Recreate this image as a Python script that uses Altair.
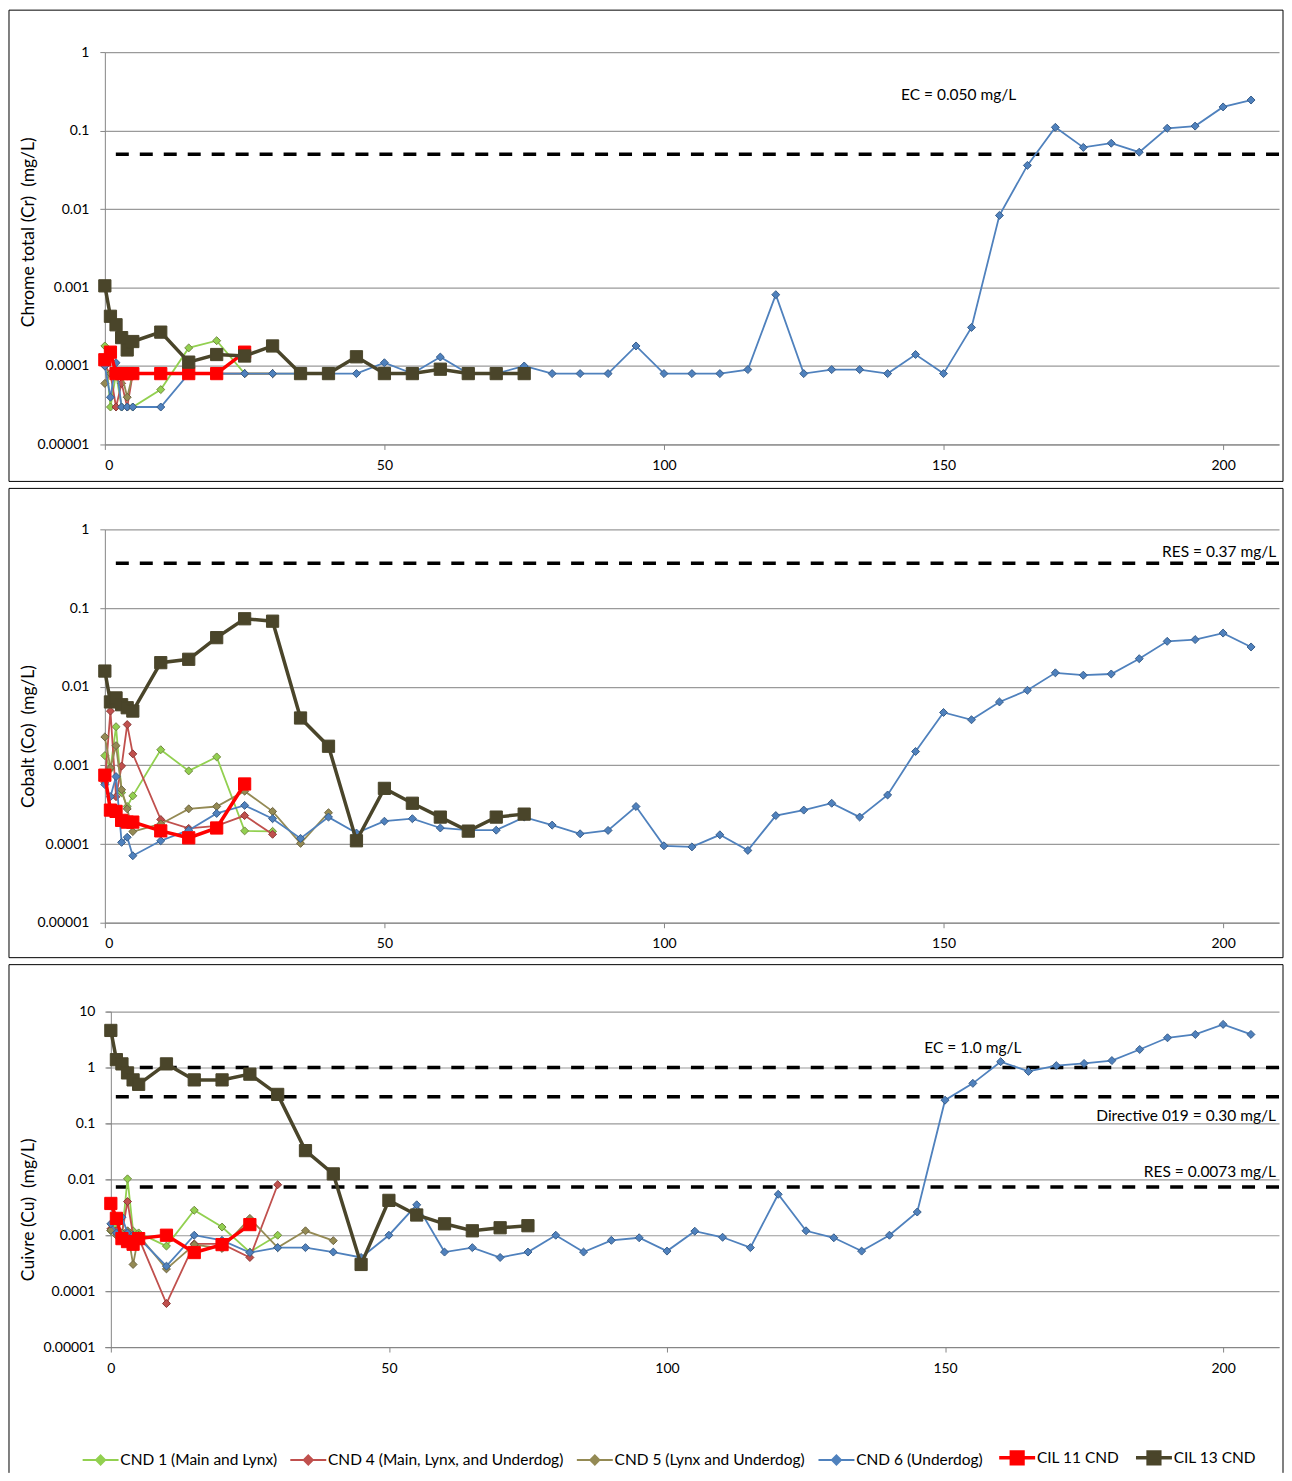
import altair as alt
import pandas as pd

SERIES = ["CND 1 (Main and Lynx)", "CND 4 (Main, Lynx, and Underdog)",
          "CND 5 (Lynx and Underdog)", "CND 6 (Underdog)", "CIL 11 CND", "CIL 13 CND"]
COLORS = ["#92D050", "#C0504D", "#948A54", "#4F81BD", "#FF0000", "#4A452A"]
EDGES = ["#71893F", "#8C3836", "#6B6340", "#385D8A", "#FF0000", "#4A452A"]

# sampling days for each series
T_CND1 = [0, 1, 2, 3, 4, 5, 10, 15, 20, 25, 30]
T_CND4 = [0, 1, 2, 3, 4, 5, 10, 15, 20, 25, 30]
T_CND5 = [0, 1, 2, 3, 4, 5, 10, 15, 20, 25, 30, 35, 40]
T_CND6 = [0, 1, 2, 3, 4, 5, 10, 15, 20, 25, 30, 35, 40, 45, 50, 55, 60, 65, 70, 75,
          80, 85, 90, 95, 100, 105, 110, 115, 120, 125, 130, 135, 140, 145, 150, 155,
          160, 165, 170, 175, 180, 185, 190, 195, 200, 205]
T_CIL11 = [0, 1, 2, 3, 4, 5, 10, 15, 20, 25]
T_CIL13 = [0, 1, 2, 3, 4, 5, 10, 15, 20, 25, 30, 35, 40, 45, 50, 55, 60, 65, 70, 75]
TIMES = [T_CND1, T_CND4, T_CND5, T_CND6, T_CIL11, T_CIL13]

# ---- Chrome total (Cr) ----
CR_CND1 = [1.8e-4, 3e-5, 8e-5, 3e-5, 3e-5, 3e-5, 5e-5, 1.7e-4, 2.1e-4, 8e-5, 8e-5]
CR_CND4 = [1e-4, 8e-5, 3e-5, 6e-5, 3e-5, 8e-5, 8e-5, 8e-5, 8e-5, 8e-5, 8e-5]
CR_CND5 = [6e-5, 8e-5, 8e-5, 8e-5, 4e-5, 8e-5, 8e-5, 8e-5, 8e-5, 8e-5, 8e-5, 8e-5, 8e-5]
CR_CND6 = [1e-4, 4e-5, 1.1e-4, 3e-5, 3e-5, 3e-5, 3e-5, 8e-5, 8e-5, 8e-5, 8e-5, 8e-5,
           8e-5, 8e-5, 1.1e-4, 8e-5, 1.3e-4, 8e-5, 8e-5, 1e-4, 8e-5, 8e-5, 8e-5, 1.8e-4,
           8e-5, 8e-5, 8e-5, 9e-5, 8.1e-4, 8e-5, 9e-5, 9e-5, 8e-5, 1.4e-4, 8e-5, 3.1e-4,
           8.3e-3, 0.036, 0.11, 0.061, 0.069, 0.053, 0.107, 0.114, 0.20, 0.245]
CR_CIL11 = [1.2e-4, 1.5e-4, 8e-5, 8e-5, 8e-5, 8e-5, 8e-5, 8e-5, 8e-5, 1.5e-4]
CR_CIL13 = [1.05e-3, 4.3e-4, 3.35e-4, 2.3e-4, 1.6e-4, 2.05e-4, 2.7e-4, 1.12e-4, 1.4e-4,
            1.34e-4, 1.8e-4, 8e-5, 8e-5, 1.31e-4, 8e-5, 8e-5, 9.1e-5, 8e-5, 8e-5, 8e-5]

# ---- Cobalt (Co) ----
CO_CND1 = [1.33e-3, 9e-4, 3.1e-3, 4.5e-4, 3e-4, 4.1e-4, 1.58e-3, 8.5e-4, 1.28e-3, 1.47e-4, 1.45e-4]
CO_CND4 = [6e-4, 4.9e-3, 4e-4, 9.8e-4, 3.3e-3, 1.4e-3, 2.05e-4, 1.58e-4, 1.7e-4, 2.3e-4, 1.33e-4]
CO_CND5 = [2.3e-3, 9.3e-4, 1.78e-3, 4.9e-4, 2.8e-4, 1.44e-4, 1.8e-4, 2.8e-4, 3e-4, 4.7e-4,
           2.6e-4, 1.02e-4, 2.5e-4]
CO_CND6 = [5.7e-4, 4e-4, 7.2e-4, 1.05e-4, 1.22e-4, 7.1e-5, 1.1e-4, 1.5e-4, 2.45e-4, 3.1e-4,
           2.1e-4, 1.18e-4, 2.2e-4, 1.38e-4, 1.95e-4, 2.1e-4, 1.6e-4, 1.5e-4, 1.5e-4, 2.2e-4,
           1.74e-4, 1.35e-4, 1.49e-4, 3.0e-4, 9.5e-5, 9.2e-5, 1.31e-4, 8.3e-5, 2.3e-4, 2.7e-4,
           3.3e-4, 2.2e-4, 4.2e-4, 1.5e-3, 4.7e-3, 3.8e-3, 6.4e-3, 9.0e-3, 0.015, 0.014,
           0.0145, 0.0227, 0.0377, 0.0397, 0.048, 0.032]
CO_CIL11 = [7.5e-4, 2.7e-4, 2.6e-4, 2e-4, 1.9e-4, 1.9e-4, 1.47e-4, 1.2e-4, 1.6e-4, 5.8e-4]
CO_CIL13 = [0.0158, 6.4e-3, 7.2e-3, 5.9e-3, 5.4e-3, 4.9e-3, 0.0202, 0.0223, 0.042, 0.073,
            0.068, 4.0e-3, 1.75e-3, 1.1e-4, 5.1e-4, 3.3e-4, 2.2e-4, 1.46e-4, 2.2e-4, 2.4e-4]

# ---- Cuivre (Cu) ----
CU_CND1 = [1.2e-3, 1.5e-3, 1e-3, 0.0102, 1.2e-3, 1.1e-3, 6.4e-4, 2.8e-3, 1.4e-3, 5e-4, 1e-3]
CU_CND4 = [1.3e-3, 1.2e-3, 1.1e-3, 4e-3, 1e-3, 9e-4, 6e-5, 7e-4, 7e-4, 4e-4, 8e-3]
CU_CND5 = [1.23e-3, 1e-3, 1.1e-3, 1.2e-3, 3e-4, 1e-3, 2.5e-4, 6.8e-4, 5.8e-4, 2e-3, 6e-4,
           1.2e-3, 8e-4]
CU_CND6 = [1.6e-3, 1.1e-3, 2.1e-3, 1.1e-3, 1e-3, 9e-4, 2.8e-4, 1e-3, 8.1e-4, 4.9e-4, 6e-4,
           6e-4, 5e-4, 4e-4, 1e-3, 3.5e-3, 5e-4, 6e-4, 4e-4, 5e-4, 1e-3, 5e-4, 8.1e-4, 9e-4,
           5.2e-4, 1.18e-3, 9.2e-4, 6e-4, 5.4e-3, 1.2e-3, 9e-4, 5.2e-4, 1e-3, 2.6e-3, 0.26,
           0.52, 1.27, 0.85, 1.08, 1.18, 1.33, 2.1, 3.4, 3.9, 5.9, 3.9]
CU_CIL11 = [3.7e-3, 2e-3, 8.7e-4, 7.7e-4, 6.9e-4, 8.7e-4, 1e-3, 4.9e-4, 6.8e-4, 1.55e-3]
CU_CIL13 = [4.6, 1.38, 1.16, 0.8, 0.6, 0.5, 1.16, 0.6, 0.6, 0.76, 0.33, 0.0326, 0.0125, 3e-4,
            4.2e-3, 2.3e-3, 1.6e-3, 1.2e-3, 1.36e-3, 1.48e-3]

X_TICKS = [0, 50, 100, 150, 200]
Y_TICKS_1 = [0.00001, 0.0001, 0.001, 0.01, 0.1, 1]
Y_TICKS_10 = [0.00001, 0.0001, 0.001, 0.01, 0.1, 1, 10]

CR_LIMITS = [0.050]
CR_NOTES = [(152.7, 0.28, "EC = 0.050 mg/L", "center")]
CO_LIMITS = [0.37]
CO_NOTES = [(209.5, 0.52, "RES = 0.37 mg/L", "right")]
CU_LIMITS = [1.0, 0.30, 0.0073]
CU_NOTES = [(155.0, 2.27, "EC = 1.0 mg/L", "center"),
            (209.5, 0.133, "Directive 019 = 0.30 mg/L", "right"),
            (209.5, 0.0133, "RES = 0.0073 mg/L", "right")]

FONT = "Lato"
# legend glyphs: line with a marker in the middle
PATHS = ["M-4,0H4M0,-1L1,0L0,1L-1,0Z"] * 4 + ["M-4,0H4M-1.3,-1.3H1.3V1.3H-1.3Z"] * 2
LEG_WIDTHS = [2, 2, 2, 2, 3.5, 3.5]


def panel(vals, xdom, ymax, yticks, ytitle, title_y, y_off, W, H, L, T, R, B,
          limits, notes, with_legend=False):
    rows = []
    for s, ts, vs in zip(SERIES, TIMES, vals):
        for a, b in zip(ts, vs):
            rows.append({"series": s, "t": a, "v": b})
    df = pd.DataFrame(rows)

    X = alt.X("t:Q", scale=alt.Scale(domain=xdom, nice=False, zero=False),
              axis=alt.Axis(values=X_TICKS, grid=False, title=None, tickSize=5,
                            labelPadding=9, labelFontSize=14, labelFont=FONT,
                            labelColor="black", domainColor="#868686", tickColor="#868686"))
    Y = alt.Y("v:Q", scale=alt.Scale(type="log", domain=[0.00001, ymax], nice=False),
              axis=alt.Axis(values=yticks, format=".5~f", grid=True, gridColor="#9A9A9A",
                            gridWidth=1.2, title=ytitle, titleFont=FONT, titleFontSize=17.5,
                            titleFontWeight="normal", titleColor="black",
                            titleX=-76 - y_off, titleY=title_y, titleAngle=270,
                            titleBaseline="middle", titleAlign="center", offset=-y_off,
                            tickSize=5, labelPadding=11, labelFontSize=14, labelFont=FONT,
                            labelColor="black", domainColor="#868686", tickColor="#868686"))

    layers = []
    fdf = pd.DataFrame({"f": [0]})
    if with_legend:
        # open frame: left, top and right edges
        fr = alt.Chart(fdf).mark_rule(color="black", strokeWidth=1)
        layers.append(fr.encode(x=alt.value(-L), y=alt.value(-T), y2=alt.value(H + B)))
        layers.append(fr.encode(x=alt.value(-L), x2=alt.value(W + R), y=alt.value(-T)))
        layers.append(fr.encode(x=alt.value(W + R), y=alt.value(-T), y2=alt.value(H + B)))
    else:
        layers.append(alt.Chart(fdf).mark_rect(
            fill="transparent", stroke="black", strokeWidth=1
        ).encode(x=alt.value(-L), x2=alt.value(W + R), y=alt.value(-T), y2=alt.value(H + B)))

    lim_df = pd.DataFrame({"v": limits})
    layers.append(alt.Chart(lim_df).mark_rule(color="black", strokeWidth=3.5,
                                              strokeDash=[13, 11]).encode(y=Y))

    for i, s in enumerate(SERIES):
        base = alt.Chart(df).transform_filter(alt.datum.series == s)
        cil = s.startswith("CIL")
        layers.append(base.mark_line(strokeWidth=3.5 if cil else 1.8,
                                     color=COLORS[i]).encode(x=X, y=Y))
        layers.append(base.mark_point(filled=True, opacity=1, strokeWidth=1,
                                      fill=COLORS[i], stroke=EDGES[i],
                                      shape="square" if cil else "diamond",
                                      size=150 if cil else 64).encode(x=X, y=Y))

    for (tx, ty, txt, al) in notes:
        ndf = pd.DataFrame({"t": [tx], "v": [ty], "label": [txt]})
        layers.append(alt.Chart(ndf).mark_text(align=al, baseline="middle", fontSize=15.5,
                                               font=FONT, color="black").encode(
            x=X, y=Y, text="label:N"))

    if with_legend:
        leg = alt.Legend(title=None, orient="none", legendX=-20, legendY=1400,
                         direction="horizontal", columns=6, labelFont=FONT,
                         labelFontSize=15.5, labelColor="black", labelLimit=0,
                         symbolSize=81, symbolOffset=8, labelOffset=12,
                         columnPadding=8, padding=0, symbolOpacity=1)
        ldf = pd.DataFrame({"series": SERIES, "t": [None] * 6, "v": [None] * 6})
        layers.append(alt.Chart(ldf).mark_point(filled=True, opacity=1, size=81).encode(
            x=X, y=Y,
            color=alt.Color("series:N", scale=alt.Scale(domain=SERIES, range=COLORS), legend=leg),
            stroke=alt.Stroke("series:N", scale=alt.Scale(domain=SERIES, range=COLORS), legend=leg),
            strokeWidth=alt.StrokeWidth("series:N", scale=alt.Scale(type="ordinal", domain=SERIES,
                                                                    range=LEG_WIDTHS), legend=leg),
            shape=alt.Shape("series:N", scale=alt.Scale(domain=SERIES, range=PATHS), legend=leg)))

    return alt.layer(*layers).properties(width=W, height=H)


p1 = panel([CR_CND1, CR_CND4, CR_CND5, CR_CND6, CR_CIL11, CR_CIL13], [0, 210], 1, Y_TICKS_1,
           "Chrome total (Cr) \u00a0(mg/L)", 180, 0, 1176, 393, 96, 42, 4, 37,
           CR_LIMITS, CR_NOTES)
p2 = panel([CO_CND1, CO_CND4, CO_CND5, CO_CND6, CO_CIL11, CO_CIL13], [0, 210], 1, Y_TICKS_1,
           "Cobalt (Co) \u00a0(mg/L)", 207, 0, 1176, 394, 96, 41, 4, 35,
           CO_LIMITS, CO_NOTES)
p3 = panel([CU_CND1, CU_CND4, CU_CND5, CU_CND6, CU_CIL11, CU_CIL13], [-1.077, 210.05], 10,
           Y_TICKS_10, "Cuivre (Cu) \u00a0(mg/L)", 198, 6, 1176, 336, 96, 47, 4, 126,
           CU_LIMITS, CU_NOTES, with_legend=True)

chart = alt.vconcat(p1, p2, p3, spacing=5).properties(padding=0).configure(
    font=FONT).configure_view(stroke=None)

chart.save("out.html", embed_options={"renderer": "svg", "actions": False})
